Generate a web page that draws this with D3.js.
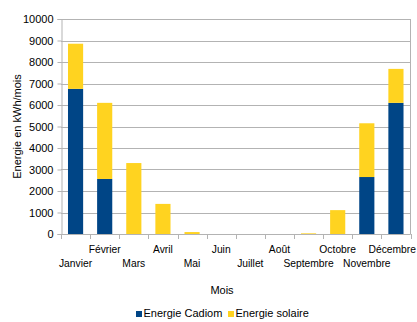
<!DOCTYPE html>
<html>
<head>
<meta charset="utf-8">
<script src="https://d3js.org/d3.v7.min.js"></script>
<style>
body { margin: 0; background: #fff; }
svg { font-family: "Liberation Sans", Arial, sans-serif; }
</style>
</head>
<body>
<svg id="chart" width="417" height="322"></svg>
<script>
// donnees
var mois = ["Janvier", "Février", "Mars", "Avril", "Mai", "Juin", "Juillet", "Août", "Septembre", "Octobre", "Novembre", "Décembre"];
var cadiom = [6750, 2560, 0, 0, 0, 0, 0, 0, 0, 0, 2650, 6100];
var solaire = [2100, 3540, 3300, 1400, 90, 0, 0, 0, 30, 1110, 2500, 1580];
var yTicks = [0, 1000, 2000, 3000, 4000, 5000, 6000, 7000, 8000, 9000, 10000];
var series = ["Energie Cadiom", "Energie solaire"];
var colors = ["#004586", "#ffd320"];

var svg = d3.select("#chart");
var W = 417;
var pLeft = 61, pRight = 410.5, pTop = 19, pBottom = 234;

var x = d3.scaleBand().domain(mois).range([pLeft, pRight]).paddingInner(0.48).paddingOuter(0.24);
var xb = d3.scaleBand().domain(mois).range([pLeft, pRight]);
var y = d3.scaleLinear().domain([0, 10000]).range([pBottom, pTop]);

// grille
svg.append("g").selectAll("line").data(yTicks).enter().append("line")
  .attr("x1", pLeft).attr("x2", pRight)
  .attr("y1", function(d){ return Math.round(y(d)) + 0.5; })
  .attr("y2", function(d){ return Math.round(y(d)) + 0.5; })
  .attr("stroke", "#b3b3b3").attr("stroke-width", 1);

svg.append("line").attr("x1", pRight).attr("x2", pRight).attr("y1", pTop).attr("y2", pBottom)
  .attr("stroke", "#b3b3b3");

// barres empilees
var data = mois.map(function(m, i){ return {mois: m, c: cadiom[i], s: solaire[i]}; });
var stack = d3.stack().keys(["c", "s"])(data);
svg.append("g").selectAll("g").data(stack).enter().append("g")
  .attr("fill", function(d, i){ return colors[i]; })
  .selectAll("rect").data(function(d){ return d; }).enter().append("rect")
  .attr("x", function(d){ return x(d.data.mois); })
  .attr("width", x.bandwidth())
  .attr("y", function(d){ return y(d[1]); })
  .attr("height", function(d){ return y(d[0]) - y(d[1]); });

// axe y
var yAxis = d3.axisLeft(y).tickValues(yTicks).tickFormat(d3.format("d")).tickSize(4).tickPadding(4);
var gy = svg.append("g").attr("transform", "translate(" + (pLeft + 0.5) + ",0)").call(yAxis);
gy.select(".domain").attr("stroke", "#b3b3b3");
gy.selectAll(".tick line").attr("stroke", "#b3b3b3");
gy.selectAll("text").attr("font-size", 11).attr("fill", "#000").attr("font-family", "Liberation Sans, Arial, sans-serif");

// axe x
svg.append("line").attr("x1", pLeft).attr("x2", pRight).attr("y1", pBottom + 0.5).attr("y2", pBottom + 0.5)
  .attr("stroke", "#b3b3b3");
var bounds = mois.map(function(m){ return xb(m); }).concat([pRight]);
svg.append("g").selectAll("line").data(bounds).enter().append("line")
  .attr("x1", function(d){ return Math.round(d) + 0.5; })
  .attr("x2", function(d){ return Math.round(d) + 0.5; })
  .attr("y1", pBottom).attr("y2", pBottom + 5)
  .attr("stroke", "#b3b3b3");

svg.append("g").selectAll("text").data(mois).enter().append("text")
  .attr("y", function(d, i){ return i % 2 == 0 ? 267 : 253; })
  .attr("text-anchor", "middle")
  .attr("font-size", 10.3)
  .text(function(d){ return d; })
  .attr("x", function(d){
    // garder le dernier libelle dans la fenetre
    var cx = xb(d) + xb.bandwidth() / 2;
    var half = this.getComputedTextLength() / 2;
    return Math.min(cx, W - 1 - half);
  });

// titres des axes
svg.append("text")
  .attr("transform", "translate(21," + ((pTop + pBottom) / 2) + ") rotate(-90)")
  .attr("text-anchor", "middle").attr("font-size", 11)
  .text("Energie en kWh/mois");

svg.append("text").attr("x", 222).attr("y", 294).attr("text-anchor", "middle")
  .attr("font-size", 11).text("Mois");

// legende
var legX = [136, 228];
series.forEach(function(s, i){
  svg.append("rect").attr("x", legX[i]).attr("y", 311).attr("width", 6).attr("height", 6)
    .attr("fill", colors[i]);
  svg.append("text").attr("x", legX[i] + 7.5).attr("y", 317).attr("font-size", 11).text(s);
});
</script>
</body>
</html>
